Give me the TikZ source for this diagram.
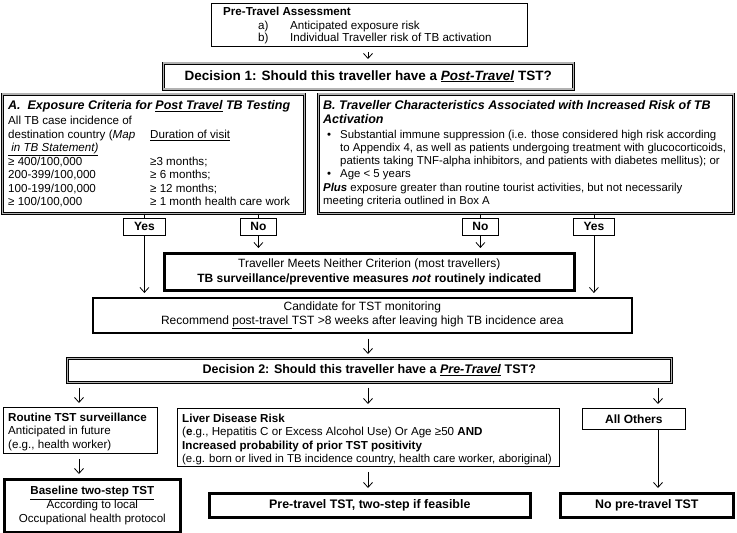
\documentclass[tikz,border=0pt]{standalone}
\usepackage{fontspec}
\setmainfont{Liberation Sans}
\usetikzlibrary{arrows.meta}
\begin{document}
\begin{tikzpicture}[x=1bp,y=-1bp,
  font=\fontsize{11.6bp}{13.4bp}\selectfont,
  box/.style={draw, line width=0.8bp, inner sep=0pt, anchor=north west, align=center},
  tbox/.style={box, line width=2.6bp},
  mbox/.style={box, line width=1.6bp},
  dbox/.style={box, line width=0.6bp, double=gray!60, double distance=1.6bp},
  t/.style={inner sep=0pt, anchor=base west},
  tb/.style={t, font=\fontsize{11.4bp}{13.4bp}\selectfont},
  ttl/.style={t, font=\fontsize{12.5bp}{14bp}\selectfont\bfseries\itshape},
  bf12/.style={font=\fontsize{12bp}{14bp}\selectfont\bfseries},
  rg12/.style={font=\fontsize{12bp}{14bp}\selectfont},
  bfout/.style={font=\fontsize{12.4bp}{14bp}\selectfont\bfseries},
  ln/.style={line width=0.8bp},
  arr/.style={line width=0.8bp, -{Straight Barb[length=5bp,width=9bp]}, shorten >=4bp},
  gap/.style={arr, shorten <=5bp}
]
\useasboundingbox (0,0) rectangle (737,533);

% ---------- Pre-travel assessment
\node[box, minimum width=316bp, minimum height=43bp] (pre) at (211,3) {};
\node[t] (pre1) at (223,16) {\textbf{Pre-Travel Assessment}};
\node[t] (pre2) at (258,29.5) {a)};
\node[t] (pre3) at (290,29.5) {Anticipated exposure risk};
\node[t] (pre4) at (258,42) {b)};
\node[t] (pre5) at (290,42) {Individual Traveller risk of TB activation};

% ---------- Decision 1
\node[dbox, minimum width=410bp, minimum height=26bp, font=\fontsize{13.5bp}{15bp}\selectfont\bfseries] (dec1) at (163,63)
  {Decision 1: Should this traveller have a \underline{\textit{Post-Travel}} TST?};

% ---------- Box A
\node[dbox, minimum width=302bp, minimum height=119bp] (boxA) at (2,94) {};
\node[ttl] (a0) at (8,109.5) {A.\ \ Exposure Criteria for \underline{Post Travel} TB Testing};
\node[t] (a1) at (8,125) {All TB case incidence of};
\node[t] (a2) at (8,138.5) {destination country (\textit{Map}};
\node[t] (a2b) at (150,138.5) {\underline{Duration of visit}};
\node[t] (a3) at (8,151.5) {\underline{\textit{\ in TB Statement)}}};
\node[t] (a4) at (8,165.5) {≥ 400/100,000};
\node[t] (a4b) at (150,165.5) {≥3 months;};
\node[t] (a5) at (8,179) {200-399/100,000};
\node[t] (a5b) at (150,179) {≥ 6 months;};
\node[t] (a6) at (8,192.5) {100-199/100,000};
\node[t] (a6b) at (150,192.5) {≥ 12 months;};
\node[t] (a7) at (8,206) {≥ 100/100,000};
\node[t] (a7b) at (150,206) {≥ 1 month health care work};

% ---------- Box B
\node[dbox, minimum width=415bp, minimum height=119bp] (boxB) at (318,94) {};
\node[ttl] (b0) at (323,109.5) {B. Traveller Characteristics Associated with Increased Risk of TB};
\node[ttl] (b1) at (323,123.5) {Activation};
\node[tb] (b2d) at (327,138.5) {•};
\node[tb] (b2) at (340,138.5) {Substantial immune suppression (i.e. those considered high risk according};
\node[tb] (b3) at (340,151.5) {to Appendix 4, as well as patients undergoing treatment with glucocorticoids,};
\node[tb] (b4) at (340,165) {patients taking TNF-alpha inhibitors, and patients with diabetes mellitus); or};
\node[tb] (b5d) at (327,178) {•};
\node[tb] (b5) at (340,178) {Age < 5 years};
\node[tb] (b6) at (323,191.5) {\textbf{\textit{Plus}} exposure greater than routine tourist activities, but not necessarily};
\node[tb] (b7) at (323,205) {meeting criteria outlined in Box A};

% ---------- Yes / No
\node[box, bf12, minimum width=42bp, minimum height=17bp] (yesL) at (123,218) {Yes};
\node[box, bf12, minimum width=36bp, minimum height=17bp] (noL) at (240,218) {No};
\node[box, bf12, minimum width=36bp, minimum height=17bp] (noR) at (462,218) {No};
\node[box, bf12, minimum width=41bp, minimum height=17bp] (yesR) at (573,218) {Yes};

% ---------- Traveller meets neither
\node[tbox, rg12, minimum width=410bp, minimum height=37bp] (neither) at (163,252)
  {Traveller Meets Neither Criterion (most travellers)\\[0.5bp]
   \textbf{TB surveillance/preventive measures \textit{not} routinely indicated}};

% ---------- Candidate
\node[mbox, rg12, minimum width=539bp, minimum height=35bp] (cand) at (92,297)
  {Candidate for TST monitoring\\[0.5bp]
   Recommend \underline{post-travel\ }TST >8 weeks after leaving high TB incidence area};

% ---------- Decision 2
\node[dbox, minimum width=604bp, minimum height=24bp, font=\fontsize{12.5bp}{14bp}\selectfont\bfseries] (dec2) at (67,358)
  {Decision 2: Should this traveller have a \underline{\textit{Pre-Travel}} TST?};

% ---------- Second level
\node[box, minimum width=154bp, minimum height=46bp] (rout) at (3,407) {};
\node[t] (r1) at (8,421) {\textbf{Routine TST surveillance}};
\node[t] (r2) at (8,434.5) {Anticipated in future};
\node[t] (r3) at (8,448) {(e.g., health worker)};

\node[box, minimum width=382bp, minimum height=58bp] (liver) at (177,408) {};
\node[t] (l1) at (182,422) {\textbf{Liver Disease Risk}};
\node[t] (l2) at (182,435.5) {(\textbf{e}.g., Hepatitis C or Excess Alcohol Use) Or Age ≥50 \textbf{AND}};
\node[t] (l3) at (182,449) {\textbf{Increased probability of prior TST positivity}};
\node[tb] (l4) at (182,462.5) {(e.g. born or lived in TB incidence country, health care worker, aboriginal)};

\node[box, bf12, minimum width=103bp, minimum height=21bp] (others) at (582,408) {All Others};

% ---------- Outcomes
\node[tbox, minimum width=176bp, minimum height=53bp] (base) at (3,478)
  {\textbf{\underline{Baseline two-step TST}}\\[0.5bp] According to local\\[0.5bp] Occupational health protocol};
\node[tbox, bfout, minimum width=321bp, minimum height=24bp] (ptst) at (208,492) {Pre-travel TST, two-step if feasible};
\node[tbox, bfout, minimum width=173bp, minimum height=24bp] (nopre) at (559,492) {No pre-travel TST};

% ---------- helper x positions
\coordinate (xc) at (368,0);
\coordinate (xl) at (79,0);
\coordinate (xr) at (658,0);

% ---------- Connectors
\draw[gap] (pre.south -| xc) -- (dec1.north -| xc);
\draw[ln] (boxA.south -| yesL.north) -- (yesL.north);
\draw[ln] (boxA.south -| noL.north) -- (noL.north);
\draw[ln] (boxB.south -| noR.north) -- (noR.north);
\draw[ln] (boxB.south -| yesR.north) -- (yesR.north);
\draw[arr] (yesL.south) -- (yesL.south |- cand.north);
\draw[arr] (yesR.south) -- (yesR.south |- cand.north);
\draw[arr] (noL.south) -- (noL.south |- neither.north);
\draw[arr] (noR.south) -- (noR.south |- neither.north);
\draw[gap] (cand.south -| xc) -- (dec2.north -| xc);
\draw[gap] (dec2.south -| xl) -- (rout.north -| xl);
\draw[gap] (dec2.south -| xc) -- (liver.north -| xc);
\draw[gap] (dec2.south -| xr) -- (others.north -| xr);
\draw[gap] (rout.south -| xl) -- (base.north -| xl);
\draw[gap] (liver.south -| xc) -- (ptst.north -| xc);
\draw[arr] (others.south -| xr) -- (nopre.north -| xr);
\end{tikzpicture}
\end{document}
